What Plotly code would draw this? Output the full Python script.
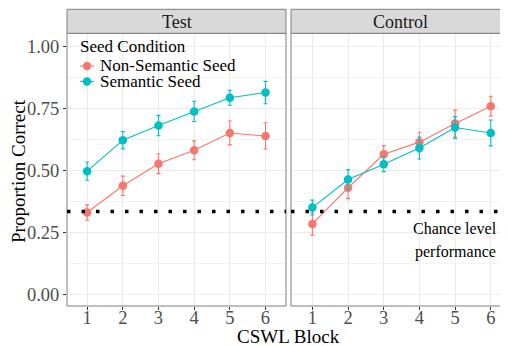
import plotly.graph_objects as go

blocks = [1, 2, 3, 4, 5, 6]
panels = ["Test", "Control"]
series = ["Non-Semantic Seed", "Semantic Seed"]
colors = {"Non-Semantic Seed": "#F8766D", "Semantic Seed": "#00BFC4"}

test_nonsem = [0.329, 0.437, 0.526, 0.580, 0.650, 0.638]
test_nonsem_err = [0.031, 0.039, 0.040, 0.038, 0.048, 0.053]
test_sem = [0.496, 0.621, 0.680, 0.737, 0.792, 0.813]
test_sem_err = [0.037, 0.035, 0.041, 0.041, 0.030, 0.045]

ctrl_nonsem = [0.283, 0.429, 0.564, 0.613, 0.688, 0.758]
ctrl_nonsem_err = [0.045, 0.044, 0.035, 0.040, 0.054, 0.040]
ctrl_sem = [0.349, 0.462, 0.524, 0.589, 0.672, 0.650]
ctrl_sem_err = [0.030, 0.040, 0.030, 0.044, 0.044, 0.052]

chance = 1 / 3
yticks = [0.0, 0.25, 0.5, 0.75, 1.0]

data = {
    "Test": {"Non-Semantic Seed": (test_nonsem, test_nonsem_err),
             "Semantic Seed": (test_sem, test_sem_err)},
    "Control": {"Non-Semantic Seed": (ctrl_nonsem, ctrl_nonsem_err),
                "Semantic Seed": (ctrl_sem, ctrl_sem_err)},
}

# page has an 8px body margin: figure occupies 8..508 x 8..346
OFF = 8
W, H = 500, 338
font = "Liberation Serif, Times New Roman, serif"


def px_x(p):
    return (p - OFF) / W


def px_y(p):
    return 1 - (p - OFF) / H


fig = go.Figure()

axes = [("x", "y"), ("x2", "y2")]
for i, panel in enumerate(panels):
    xa, ya = axes[i]
    for s in series:
        vals, errs = data[panel][s]
        fig.add_trace(go.Scatter(
            x=blocks, y=vals, xaxis=xa, yaxis=ya,
            mode="lines+markers", name=s, legendgroup=s,
            showlegend=False,
            line=dict(color=colors[s], width=1.1),
            marker=dict(color=colors[s], size=8.5),
            error_y=dict(type="data", array=errs, visible=True,
                         color=colors[s], thickness=1.1, width=2),
        ))

panel_top, panel_bot = 33.3, 306
# left panel 67..286, right panel 291..(beyond page edge, visible to 508)
domains = [(67, 286), (291, 508)]
xranges = [[0.435, 6.575], [0.40, 0.40 + 217 / 35.67]]
grid = "#EBEBEB"
tickfont = dict(family=font, size=18.5, color="#4D4D4D")

common_x = dict(tickvals=blocks, ticktext=[str(b) for b in blocks],
                showgrid=True, gridcolor=grid, gridwidth=1,
                ticks="outside", ticklen=3, tickcolor="#333333",
                tickfont=tickfont, ticklabelstandoff=-8,
                showline=False, zeroline=False, mirror=False)
common_y = dict(range=[-0.048, 1.052], tickvals=yticks,
                showgrid=True, gridcolor=grid, gridwidth=1,
                minor=dict(tickvals=[0.125, 0.375, 0.625, 0.875], showgrid=True,
                           gridcolor="#F3F3F3", gridwidth=0.6),
                zeroline=False, showline=False)

lay = dict(
    width=W, height=H,
    margin=dict(l=0, r=0, t=0, b=0),
    paper_bgcolor="white", plot_bgcolor="white",
    showlegend=False,
)
for i, (a, b) in enumerate(domains):
    xk = "xaxis" if i == 0 else "xaxis2"
    yk = "yaxis" if i == 0 else "yaxis2"
    lay[xk] = dict(common_x, range=xranges[i], domain=[px_x(a), min(1.0, px_x(b))],
                   anchor="y" if i == 0 else "y2")
    ydict = dict(common_y, domain=[px_y(panel_bot), px_y(panel_top)], anchor="x" if i == 0 else "x2")
    if i == 0:
        ydict.update(ticktext=[f"{v:.2f}" for v in yticks],
                     ticks="outside", ticklen=3, tickcolor="#333333",
                     tickfont=tickfont)
    else:
        ydict.update(showticklabels=False, ticks="")
    lay[yk] = ydict
fig.update_layout(**lay)

shapes = []
annotations = []

# legend background (white box inside the Test panel)
shapes.append(dict(type="rect", xref="paper", yref="paper",
                   x0=px_x(69), x1=px_x(238), y0=px_y(93), y1=px_y(35),
                   line=dict(width=0), fillcolor="white", layer="below"))

border_right = [286, 511]
for i, (a, b) in enumerate(domains):
    b2 = border_right[i]
    shapes.append(dict(type="rect", xref="paper", yref="paper",
                       x0=px_x(a), x1=px_x(b2), y0=px_y(panel_bot), y1=px_y(panel_top),
                       line=dict(color="#7F7F7F", width=1), fillcolor="rgba(0,0,0,0)", layer="above"))
    shapes.append(dict(type="rect", xref="paper", yref="paper",
                       x0=px_x(a), x1=px_x(b2), y0=px_y(panel_top), y1=px_y(9.3),
                       line=dict(color="#7F7F7F", width=1), fillcolor="#D9D9D9", layer="above"))
    cx = (a + 286) / 2 if i == 0 else (a + 510) / 2
    annotations.append(dict(text=panels[i], xref="paper", yref="paper",
                            x=px_x(cx), y=px_y(21.5), xanchor="center", yanchor="middle",
                            showarrow=False, font=dict(family=font, size=18, color="#1A1A1A")))

for i in range(2):
    xr = "x domain" if i == 0 else "x2 domain"
    yr = "y" if i == 0 else "y2"
    shapes.append(dict(type="line", xref=xr, yref=yr, x0=0, x1=1, y0=chance, y1=chance,
                       line=dict(color="black", width=3.5, dash="3.5px,11px"), layer="above"))

# manual legend
annotations.append(dict(text="Seed Condition", xref="paper", yref="paper",
                        x=px_x(78), y=px_y(46), xanchor="left", yanchor="middle",
                        showarrow=False, font=dict(family=font, size=17, color="black")))
for s, yc in zip(series, [66, 81.5]):
    shapes.append(dict(type="line", xref="paper", yref="paper",
                       x0=px_x(80), x1=px_x(94), y0=px_y(yc), y1=px_y(yc),
                       line=dict(color=colors[s], width=1.1)))
    shapes.append(dict(type="circle", xref="paper", yref="paper",
                       x0=px_x(87 - 4.2), x1=px_x(87 + 4.2), y0=px_y(yc + 4.2), y1=px_y(yc - 4.2),
                       line=dict(width=0), fillcolor=colors[s]))
    annotations.append(dict(text=s, xref="paper", yref="paper",
                            x=px_x(97.5), y=px_y(yc), xanchor="left", yanchor="middle",
                            showarrow=False, font=dict(family=font, size=17, color="black")))

annotations.append(dict(text="Chance level", xref="paper", yref="paper",
                        x=px_x(455), y=px_y(228), xanchor="center", yanchor="middle",
                        showarrow=False, font=dict(family=font, size=16, color="black")))
annotations.append(dict(text="performance", xref="paper", yref="paper",
                        x=px_x(455), y=px_y(252), xanchor="center", yanchor="middle",
                        showarrow=False, font=dict(family=font, size=16, color="black")))
annotations.append(dict(text="Proportion Correct", xref="paper", yref="paper",
                        x=px_x(18), y=px_y(171), textangle=-90,
                        xanchor="center", yanchor="middle", showarrow=False,
                        font=dict(family=font, size=19, color="black")))
annotations.append(dict(text="CSWL Block", xref="paper", yref="paper",
                        x=px_x(288), y=px_y(336), xanchor="center", yanchor="middle",
                        showarrow=False, font=dict(family=font, size=19, color="black")))

fig.update_layout(shapes=shapes, annotations=annotations)
fig.write_html("out.html")
